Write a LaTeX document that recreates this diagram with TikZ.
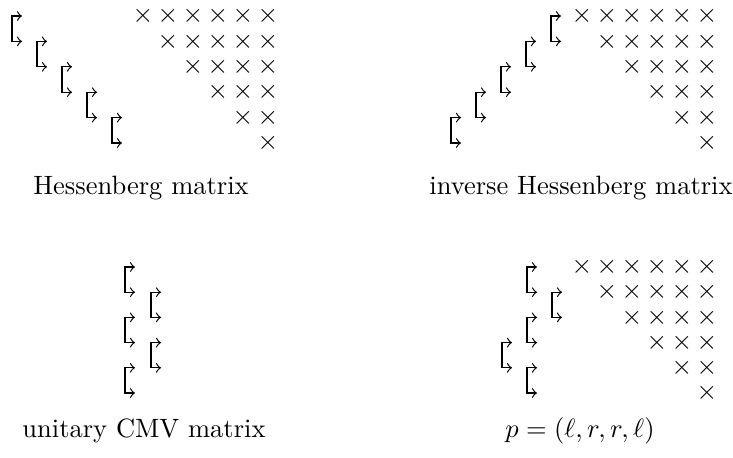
\documentclass[tikz,border=0pt]{standalone}
\usetikzlibrary{calc}
\begin{document}
\begin{tikzpicture}[x=0.3774pt,y=-0.3774pt,
  brline/.style={line width=0.45pt,->},
  cross/.style={inner sep=0pt,font=\normalsize},
  lbl/.style={anchor=base,inner sep=0pt,font=\normalsize}]
\useasboundingbox (0,0) rectangle (733,457);
% ---------- Hessenberg ----------
\foreach \k in {1,...,6}{
  \foreach \j in {\k,...,6}{
    \node[cross] (h\k\j) at ({143+25*(\j-1)},{16+25.4*(\k-1)}) {$\times$};
  }
}
\foreach \m in {1,...,5}{
  \coordinate (hbt\m) at ({12+25*(\m-1)},{16+25.4*(\m-1)});
  \coordinate (hbb\m) at ({12+25*(\m-1)},{16+25.4*\m});
  \draw[brline] ($(hbt\m)!0.5!(hbb\m)$) |- ($(hbt\m)+(10,0)$);
  \draw[brline] ($(hbt\m)!0.5!(hbb\m)$) |- ($(hbb\m)+(10,0)$);
}
\node[lbl] (lh) at (141,194) {Hessenberg matrix};
% ---------- inverse Hessenberg ----------
\foreach \k in {1,...,6}{
  \foreach \j in {\k,...,6}{
    \node[cross] (ih\k\j) at ({582+25*(\j-1)},{16+25.4*(\k-1)}) {$\times$};
  }
}
\foreach \m in {1,...,5}{
  \coordinate (ibt\m) at ({451+25*(\m-1)},{16+25.4*(5-\m)});
  \coordinate (ibb\m) at ({451+25*(\m-1)},{16+25.4*(6-\m)});
  \draw[brline] ($(ibt\m)!0.5!(ibb\m)$) |- ($(ibt\m)+(10,0)$);
  \draw[brline] ($(ibt\m)!0.5!(ibb\m)$) |- ($(ibb\m)+(10,0)$);
}
\node[lbl] (lih) at (581,194) {inverse Hessenberg matrix};
% ---------- CMV ----------
\foreach \x/\r [count=\n] in {125/1,125/3,125/5,151/2,151/4}{
  \coordinate (cbt\n) at (\x,{267+25.2*(\r-1)});
  \coordinate (cbb\n) at (\x,{267+25.2*\r});
  \draw[brline] ($(cbt\n)!0.5!(cbb\n)$) |- ($(cbt\n)+(10,0)$);
  \draw[brline] ($(cbt\n)!0.5!(cbb\n)$) |- ($(cbb\n)+(10,0)$);
}
\node[lbl] (lc) at (144,437) {unitary CMV matrix};
% ---------- p = (l,r,r,l) ----------
\foreach \k in {1,...,6}{
  \foreach \j in {\k,...,6}{
    \node[cross] (p\k\j) at ({582+25*(\j-1)},{267+25.2*(\k-1)}) {$\times$};
  }
}
\foreach \x/\r [count=\n] in {527/1,527/3,527/5,552/2,502/4}{
  \coordinate (pbt\n) at (\x,{267+25.2*(\r-1)});
  \coordinate (pbb\n) at (\x,{267+25.2*\r});
  \draw[brline] ($(pbt\n)!0.5!(pbb\n)$) |- ($(pbt\n)+(10,0)$);
  \draw[brline] ($(pbt\n)!0.5!(pbb\n)$) |- ($(pbb\n)+(10,0)$);
}
\node[lbl] (lp) at (580,437) {$p=(\ell,r,r,\ell)$};
\end{tikzpicture}
\end{document}
